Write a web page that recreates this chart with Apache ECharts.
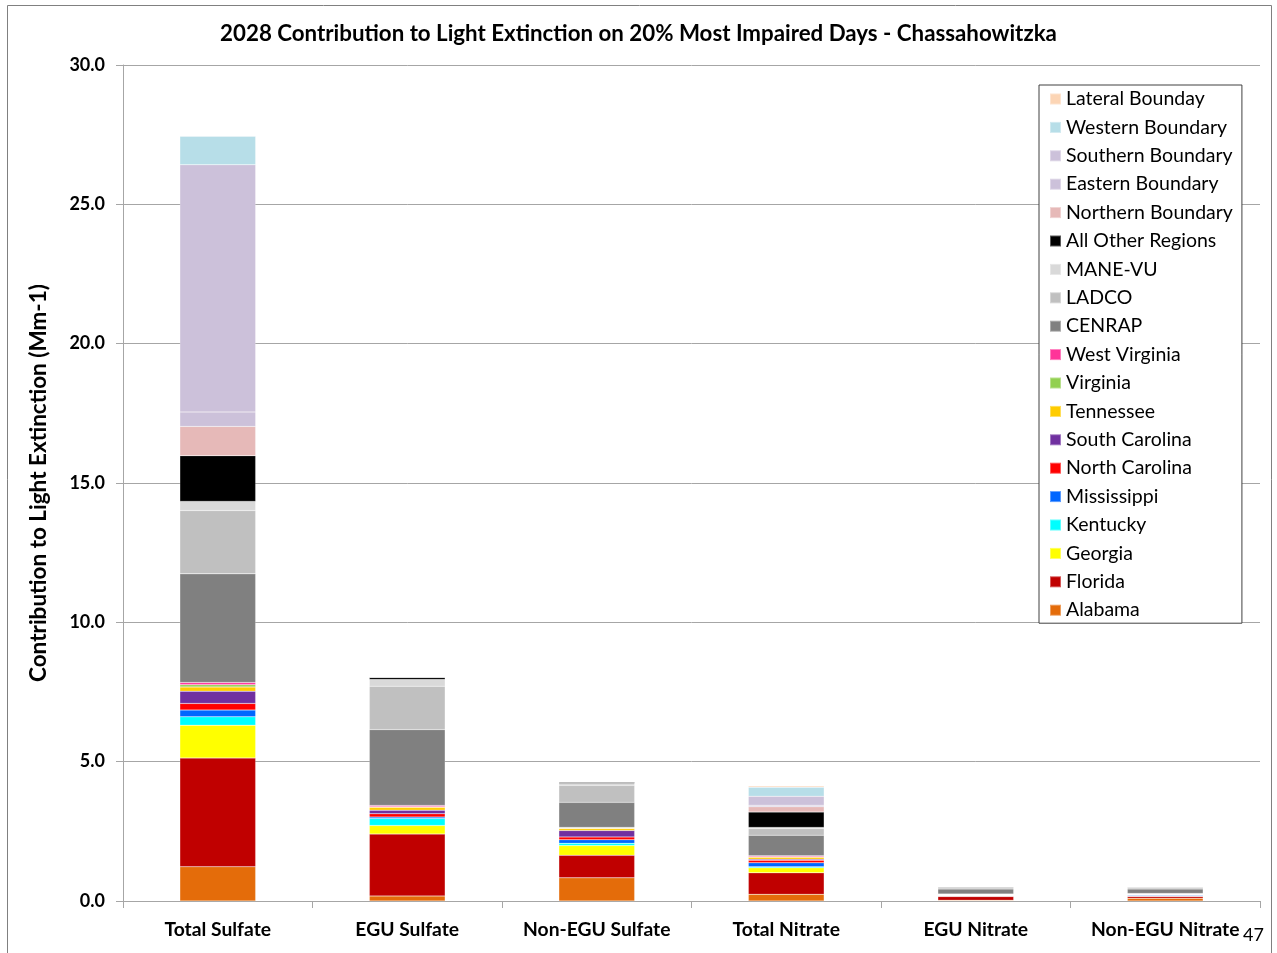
<!DOCTYPE html>
<html>
<head>
<meta charset="utf-8">
<script src="https://cdn.jsdelivr.net/npm/echarts@6/dist/echarts.min.js"></script>
<style>
  html, body { margin: 0; padding: 0; background: #fff; }
  #main { width: 1277px; height: 953px; }
</style>
</head>
<body>
<div id="main"></div>
<script>
// categories
var categories = ['Total Sulfate', 'EGU Sulfate', 'Non-EGU Sulfate', 'Total Nitrate', 'EGU Nitrate', 'Non-EGU Nitrate'];

// series values (Mm-1), stacked bottom to top
var alabama      = [1.23, 0.18, 0.83, 0.24, 0.03, 0.10];
var florida      = [3.90, 2.22, 0.81, 0.77, 0.13, 0.06];
var georgia      = [1.18, 0.31, 0.35, 0.18, 0.02, 0.02];
var kentucky     = [0.30, 0.25, 0.08, 0.04, 0.01, 0.02];
var mississippi  = [0.24, 0.05, 0.13, 0.14, 0.01, 0.02];
var northCarolina= [0.24, 0.12, 0.10, 0.09, 0.01, 0.01];
var southCarolina= [0.44, 0.13, 0.23, 0.04, 0.01, 0.01];
var tennessee    = [0.15, 0.10, 0.07, 0.07, 0.01, 0.01];
var virginia     = [0.08, 0.02, 0.02, 0.02, 0.01, 0.01];
var westVirginia = [0.08, 0.05, 0.02, 0.03, 0.01, 0.01];
var cenrap       = [3.90, 2.72, 0.90, 0.74, 0.18, 0.16];
var ladco        = [2.27, 1.56, 0.61, 0.24, 0.07, 0.06];
var manevu       = [0.33, 0.24, 0.07, 0.04, 0.02, 0.02];
var allOther     = [1.64, 0.08, 0.05, 0.55, 0.02, 0.02];
var northernBnd  = [1.05, 0, 0, 0.19, 0, 0];
var easternBnd   = [0.52, 0, 0, 0.06, 0, 0];
var southernBnd  = [8.87, 0, 0, 0.32, 0, 0];
var westernBnd   = [1.02, 0, 0, 0.32, 0, 0];
var lateralBnd   = [0.02, 0, 0, 0.05, 0, 0];

// y tick labels
var yTicks = [0, 5, 10, 15, 20, 25, 30];

var layers = [
    ['Alabama', alabama, '#E46C0A'],
    ['Florida', florida, '#C00000'],
    ['Georgia', georgia, '#FFFF00'],
    ['Kentucky', kentucky, '#00FFFF'],
    ['Mississippi', mississippi, '#0066FF'],
    ['North Carolina', northCarolina, '#FF0000'],
    ['South Carolina', southCarolina, '#7030A0'],
    ['Tennessee', tennessee, '#FFCC00'],
    ['Virginia', virginia, '#92D050'],
    ['West Virginia', westVirginia, '#FF3399'],
    ['CENRAP', cenrap, '#808080'],
    ['LADCO', ladco, '#C0C0C0'],
    ['MANE-VU', manevu, '#D9D9D9'],
    ['All Other Regions', allOther, '#000000'],
    ['Northern Boundary', northernBnd, '#E6B9B8'],
    ['Eastern Boundary', easternBnd, '#CCC1DA'],
    ['Southern Boundary', southernBnd, '#CCC1DA'],
    ['Western Boundary', westernBnd, '#B7DEE8'],
    ['Lateral Bounday', lateralBnd, '#FCD5B5']
];

var font = 'Lato, "Open Sans", sans-serif';

var series = layers.map(function (l) {
    return {
        name: l[0],
        type: 'bar',
        stack: 'total',
        data: l[1],
        barWidth: '40%',
        itemStyle: {
            color: l[2],
            borderColor: 'rgba(255,255,255,0.35)',
            borderWidth: 0.5
        }
    };
});

var chart = echarts.init(document.getElementById('main'));
var option = {
    animation: false,
    backgroundColor: '#fff',
    title: {
        text: '2028 Contribution to Light Extinction on 20% Most Impaired Days - Chassahowitzka',
        left: 'center',
        top: 18,
        textStyle: { fontFamily: font, fontSize: 22.3, fontWeight: 'bold', color: '#000' }
    },
    legend: {
        orient: 'vertical',
        left: 1039,
        top: 85,
        data: layers.map(function (l) { return l[0]; }).reverse(),
        icon: 'rect',
        itemWidth: 11,
        itemHeight: 11,
        itemGap: 8.4,
        itemTextGap: 8,
        padding: [4, 9, 3, 10],
        backgroundColor: '#fff',
        borderColor: '#404040',
        borderWidth: 1,
        selectedMode: false,
        textStyle: { fontFamily: font, fontSize: 19.5, color: '#000' }
    },
    grid: {
        left: 123,
        right: 17,
        top: 65,
        bottom: 52,
        containLabel: false
    },
    xAxis: {
        type: 'category',
        data: categories,
        axisLine: { lineStyle: { color: '#a6a6a6', width: 1 } },
        axisTick: { show: true, alignWithLabel: false, length: 7, lineStyle: { color: '#a6a6a6' } },
        axisLabel: { fontFamily: font, fontSize: 19.3, fontWeight: 'bold', color: '#000', margin: 19, interval: 0 }
    },
    yAxis: {
        type: 'value',
        min: yTicks[0],
        max: yTicks[yTicks.length - 1],
        interval: 5,
        name: 'Contribution to Light Extinction (Mm-1)',
        nameLocation: 'middle',
        nameGap: 73,
        nameTextStyle: { fontFamily: font, fontSize: 22.5, fontWeight: 'bold', color: '#000' },
        axisLine: { show: true, lineStyle: { color: '#a6a6a6' } },
        axisTick: { show: true, length: 7, inside: false, lineStyle: { color: '#a6a6a6' } },
        axisLabel: {
            fontFamily: font, fontSize: 18, fontWeight: 'bold', color: '#000', margin: 18,
            formatter: function (v) { return v.toFixed(1); }
        },
        splitLine: { lineStyle: { color: '#a6a6a6', width: 1 } }
    },
    graphic: [
        {
            type: 'rect',
            shape: { x: 7.5, y: 5.5, width: 1264, height: 960 },
            style: { fill: 'none', stroke: '#808080', lineWidth: 1 },
            silent: true
        },
        {
            type: 'text',
            left: 1243,
            top: 926,
            style: { text: '47', fontFamily: font, fontSize: 18, fill: '#000' }
        }
    ],
    series: series
};
chart.setOption(option);
</script>
</body>
</html>
